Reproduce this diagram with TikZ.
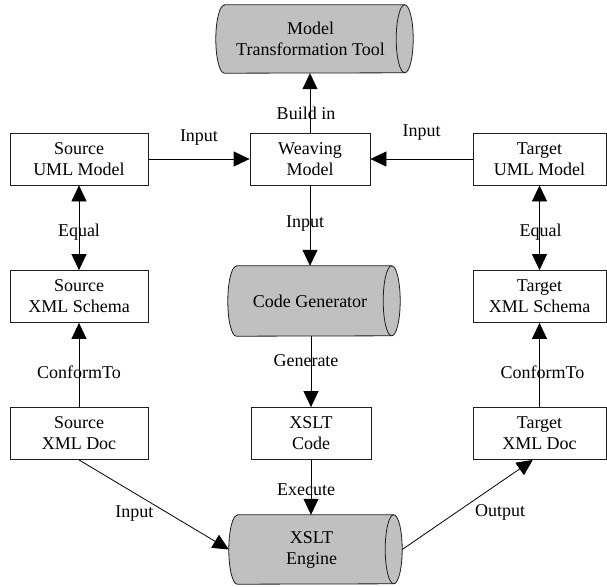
\documentclass[tikz,border=0pt]{standalone}
\usepackage{fontspec}
\setmainfont{Liberation Serif}
\usetikzlibrary{arrows.meta,calc}
\definecolor{drumfill}{RGB}{192,192,192}
\definecolor{edgeink}{RGB}{30,30,30}
% horizontal drum outline round a named node: bulging left end, open right end
\newcommand\drumoutline[3]{% node, half height, end radius
  \path[fill=drumfill, draw=edgeink, line width=0.8pt]
    ($(#1.north west)+(#3,0pt)$) -- ($(#1.north east)-(#3,0pt)$)
    arc[start angle=90, end angle=-90, x radius=#3, y radius=#2]
    -- ($(#1.south west)+(#3,0pt)$)
    arc[start angle=270, end angle=90, x radius=#3, y radius=#2] -- cycle;
  \draw[edgeink, line width=0.8pt] ($(#1.north east)-(#3,0pt)$)
    arc[start angle=90, end angle=270, x radius=#3, y radius=#2];
}
\begin{document}
\begin{tikzpicture}[x=1pt,y=-1pt,
  every node/.style={font=\fontsize{18}{21}\selectfont, align=center, inner sep=0pt},
  box/.style={draw=edgeink, line width=0.8pt, minimum height=52pt},
  drum/.style={rectangle, draw=none},
  arr/.style={draw=black, line width=0.8pt, -{Triangle[length=16pt,width=15pt]}},
  both/.style={draw=black, line width=0.8pt, {Triangle[length=16pt,width=15pt]}-{Triangle[length=16pt,width=15pt]}}]
\useasboundingbox (0,0) rectangle (607,586);

% tools (outline drawn first, text on top)
\node[drum, minimum width=197pt, minimum height=68pt] (mtt) at (314.5,39) {};
\drumoutline{mtt}{34pt}{8.5pt}
\node at (310.5,39) {Model\\Transformation Tool};

\node[drum, minimum width=172pt, minimum height=70pt] (gen) at (314,301) {};
\drumoutline{gen}{35pt}{8.5pt}
\node at (310,301) {Code Generator};

\node[drum, minimum width=173pt, minimum height=69pt] (engine) at (315.5,549.5) {};
\drumoutline{engine}{34.5pt}{8.5pt}
\node at (311.5,549.5) {XSLT\\Engine};

% boxes
\node[box, minimum width=138pt] (srcUML) at (79,159) {Source\\UML Model};
\node[box, minimum width=120pt] (weave) at (310,159) {Weaving\\Model};
\node[box, minimum width=133pt] (tgtUML) at (539.5,159) {Target\\UML Model};
\node[box, minimum width=138pt] (srcXSD) at (79,296.5) {Source\\XML Schema};
\node[box, minimum width=133pt] (tgtXSD) at (539.5,296.5) {Target\\XML Schema};
\node[box, minimum width=138pt] (srcDoc) at (79,433.5) {Source\\XML Doc};
\node[box, minimum width=120pt] (xslt) at (311,433.5) {XSLT\\Code};
\node[box, minimum width=133pt] (tgtDoc) at (539.5,433.5) {Target\\XML Doc};

% connectors
\draw[arr] (srcUML) -- node[yshift=21pt]{Input} (weave);
\draw[arr] (tgtUML) -- node[yshift=26pt]{Input} (weave);
\draw[arr] (weave) -- node[pos=0.33, xshift=-4pt]{Build in} (weave |- mtt.south);
\draw[arr] (weave) -- node[pos=0.47, xshift=-5pt]{Input} (weave |- gen.north);
\draw[both] (srcUML) -- node[pos=0.55]{Equal} (srcXSD);
\draw[both] (tgtUML) -- node[pos=0.55, xshift=1pt]{Equal} (tgtXSD);
\draw[arr] (srcDoc) -- node[pos=0.41]{ConformTo} (srcXSD);
\draw[arr] (tgtDoc) -- node[pos=0.41, xshift=3pt]{ConformTo} (tgtXSD);
\draw[arr] (gen.south -| xslt) -- node[pos=0.35, xshift=-5pt]{Generate} (xslt);
\draw[arr] (xslt) -- node[pos=0.54, xshift=-5pt]{Execute} (xslt |- engine.north);
\draw[arr] (srcDoc.south) -- node[xshift=-19.5pt, yshift=-8.5pt]{Input} (engine.west);
\draw[arr] (engine.east) -- node[xshift=32.5pt, yshift=-8pt]{Output}
  ($(tgtDoc.south west)!0.45!(tgtDoc.south east)$);
\end{tikzpicture}
\end{document}
